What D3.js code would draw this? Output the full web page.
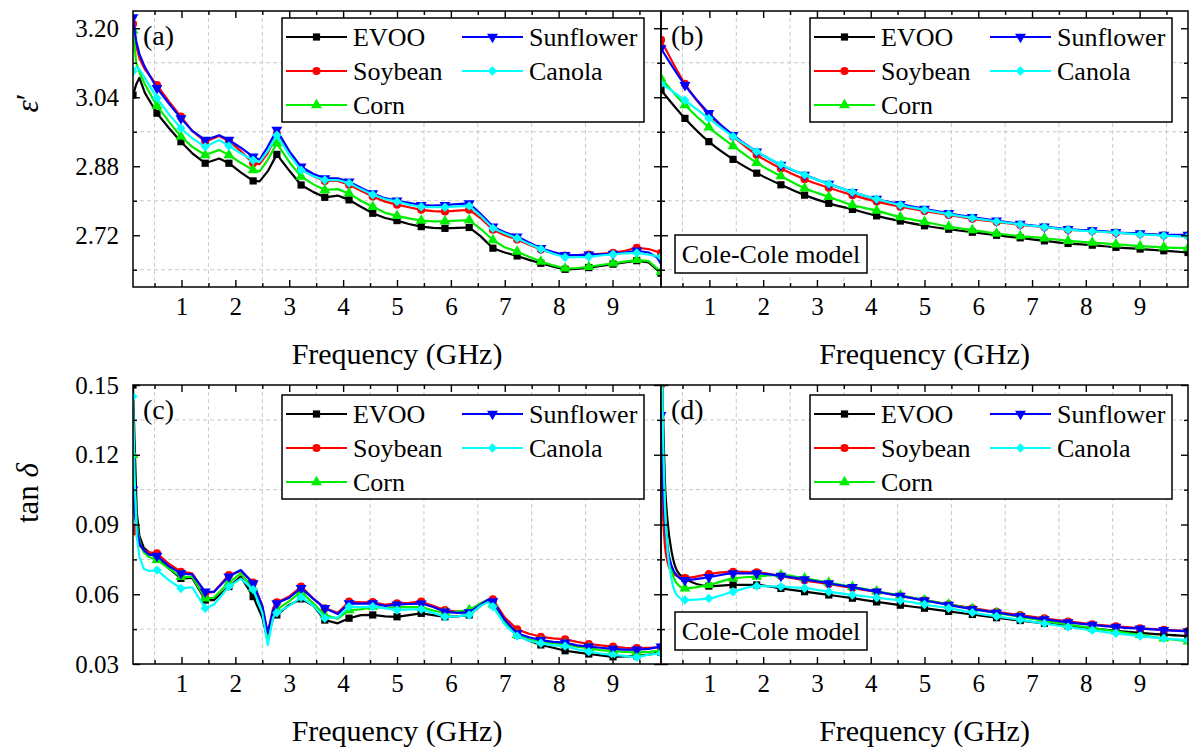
<!DOCTYPE html>
<html>
<head>
<meta charset="utf-8">
<script src="https://cdn.jsdelivr.net/npm/d3@7"></script>
<style>
  body { margin: 0; background: #fff; }
  svg { display: block; }
</style>
</head>
<body>
<svg id="chart" width="1189" height="754"></svg>
<script>
// ---------------- data ----------------
const oils = ["EVOO", "Soybean", "Corn", "Sunflower", "Canola"];
const oilColors = ["#000000", "#ff0000", "#00ee00", "#0000ff", "#00ffff"];

// frequencies (GHz) at which symbols are placed along each curve
const markerFreq = [0.1, 0.545, 0.99, 1.44, 1.88, 2.33, 2.77, 3.22, 3.66, 4.11, 4.55,
  5.0, 5.45, 5.89, 6.34, 6.78, 7.23, 7.67, 8.12, 8.56, 9.01, 9.45, 9.9];

// x tick values
const xMajor = [1, 2, 3, 4, 5, 6, 7, 8, 9];
const xMinor = [0.5, 1.5, 2.5, 3.5, 4.5, 5.5, 6.5, 7.5, 8.5, 9.5];
// y tick values
const epsMajor = [2.72, 2.88, 3.04, 3.20];
const epsMinor = [2.64, 2.80, 2.96, 3.12];
const tanMajor = [0.03, 0.06, 0.09, 0.12, 0.15];
const tanMinor = [0.045, 0.075, 0.105, 0.135];

// (a) measured permittivity
const freqEpsMeas = [0.1, 0.16, 0.22, 0.32, 0.545, 0.77, 0.99, 1.2, 1.44, 1.7, 1.88, 2.1, 2.33, 2.45, 2.6,
  2.77, 3.0, 3.22, 3.45, 3.66, 3.9, 4.11, 4.33, 4.55, 4.78, 5.0, 5.22, 5.45, 5.67, 5.89, 6.12, 6.34, 6.55,
  6.78, 7.0, 7.23, 7.45, 7.67, 7.9, 8.12, 8.34, 8.56, 8.78, 9.01, 9.23, 9.45, 9.67, 9.9];
const epsEVOO = [3.045, 3.07, 3.085, 3.05, 3.003, 2.968, 2.937, 2.91, 2.887, 2.898, 2.887, 2.866, 2.846, 2.845, 2.868,
  2.9075, 2.87, 2.8365, 2.82, 2.808, 2.812, 2.802, 2.786, 2.771, 2.76, 2.754, 2.746, 2.740, 2.737, 2.736, 2.737, 2.738, 2.718,
  2.690, 2.68, 2.672, 2.663, 2.655, 2.647, 2.641, 2.642, 2.645, 2.649, 2.653, 2.657, 2.661, 2.657, 2.632];
const epsSoybean = [3.21, 3.16, 3.13, 3.105, 3.068, 3.03, 2.995, 2.962, 2.937, 2.95, 2.938, 2.915, 2.887, 2.885, 2.91,
  2.955, 2.91, 2.873, 2.857, 2.846, 2.846, 2.837, 2.823, 2.81, 2.798, 2.791, 2.785, 2.779, 2.776, 2.775, 2.777, 2.779, 2.76,
  2.733, 2.72, 2.710, 2.698, 2.687, 2.678, 2.673, 2.674, 2.675, 2.677, 2.679, 2.684, 2.691, 2.688, 2.679];
const epsCorn = [3.195, 3.12, 3.098, 3.07, 3.02, 2.983, 2.949, 2.925, 2.906, 2.918, 2.906, 2.888, 2.871, 2.868, 2.895,
  2.933, 2.89, 2.856, 2.838, 2.825, 2.827, 2.817, 2.80, 2.786, 2.772, 2.765, 2.759, 2.754, 2.752, 2.752, 2.754, 2.755, 2.735,
  2.709, 2.692, 2.682, 2.67, 2.659, 2.65, 2.643, 2.644, 2.647, 2.651, 2.655, 2.659, 2.663, 2.66, 2.635];
const epsSunflower = [3.225, 3.17, 3.14, 3.11, 3.061, 3.025, 2.991, 2.962, 2.941, 2.952, 2.941, 2.923, 2.902, 2.895, 2.925,
  2.964, 2.915, 2.879, 2.862, 2.852, 2.852, 2.844, 2.83, 2.817, 2.806, 2.80, 2.795, 2.790, 2.789, 2.790, 2.792, 2.794, 2.77,
  2.740, 2.727, 2.717, 2.703, 2.690, 2.681, 2.674, 2.674, 2.675, 2.676, 2.677, 2.68, 2.684, 2.68, 2.663];
const epsCanola = [3.10, 3.11, 3.105, 3.085, 3.038, 3.0, 2.968, 2.945, 2.925, 2.941, 2.927, 2.91, 2.894, 2.89, 2.915,
  2.952, 2.907, 2.871, 2.857, 2.848, 2.848, 2.841, 2.827, 2.814, 2.804, 2.798, 2.791, 2.786, 2.785, 2.785, 2.787, 2.788, 2.765,
  2.736, 2.724, 2.713, 2.70, 2.688, 2.677, 2.669, 2.669, 2.670, 2.673, 2.676, 2.678, 2.679, 2.675, 2.670];

// (b) Cole-Cole model permittivity
const freqEpsModel = markerFreq;
const epsModelEVOO = [3.057, 2.991, 2.937, 2.896, 2.864, 2.837, 2.813, 2.794, 2.780, 2.765, 2.753, 2.742,
  2.734, 2.727, 2.720, 2.714, 2.707, 2.701, 2.697, 2.692, 2.688, 2.684, 2.680];
const epsModelSoybean = [3.173, 3.071, 3.0, 2.949, 2.906, 2.875, 2.850, 2.830, 2.813, 2.798, 2.786, 2.776,
  2.767, 2.758, 2.751, 2.744, 2.739, 2.733, 2.730, 2.726, 2.723, 2.720, 2.719];
const epsModelCorn = [3.084, 3.022, 2.970, 2.927, 2.888, 2.857, 2.829, 2.809, 2.790, 2.777, 2.762, 2.751,
  2.740, 2.732, 2.724, 2.718, 2.713, 2.707, 2.703, 2.699, 2.695, 2.692, 2.690];
const epsModelSunflower = [3.153, 3.068, 3.003, 2.952, 2.914, 2.883, 2.860, 2.839, 2.820, 2.804, 2.792, 2.781,
  2.771, 2.762, 2.754, 2.746, 2.740, 2.734, 2.731, 2.727, 2.724, 2.721, 2.721];
const epsModelCanola = [3.072, 3.033, 2.991, 2.949, 2.914, 2.884, 2.860, 2.839, 2.820, 2.804, 2.790, 2.779,
  2.769, 2.760, 2.752, 2.745, 2.739, 2.733, 2.729, 2.726, 2.722, 2.719, 2.717];

// (c) measured loss tangent
const freqTanMeas = [0.1, 0.13, 0.17, 0.22, 0.3, 0.4, 0.545, 0.77, 0.99, 1.2, 1.44, 1.6, 1.88, 2.1, 2.33, 2.5, 2.6,
  2.7, 2.77, 3.0, 3.22, 3.45, 3.66, 3.9, 4.11, 4.33, 4.55, 4.78, 5.0, 5.22, 5.45, 5.67, 5.89, 6.12, 6.34, 6.55,
  6.68, 6.78, 7.0, 7.23, 7.45, 7.67, 7.9, 8.12, 8.34, 8.56, 8.78, 9.01, 9.23, 9.45, 9.67, 9.9];
const tanEVOO = [0.15, 0.125, 0.095, 0.085, 0.08, 0.078, 0.0762, 0.071, 0.0668, 0.067, 0.0575, 0.0575, 0.0633, 0.0676,
  0.059, 0.05, 0.0403, 0.05, 0.0511, 0.0554, 0.058, 0.055, 0.0489, 0.0475, 0.0497, 0.051, 0.0511, 0.0505, 0.0503, 0.051,
  0.0518, 0.051, 0.0503, 0.0505, 0.0511, 0.055, 0.057, 0.0555, 0.048, 0.0425, 0.040, 0.0382, 0.037, 0.0357, 0.035, 0.0343,
  0.0337, 0.0331, 0.0333, 0.0335, 0.034, 0.035];
const tanSoybean = [0.087, 0.09, 0.085, 0.081, 0.079, 0.078, 0.0776, 0.073, 0.0697, 0.069, 0.0605, 0.061, 0.0683, 0.070,
  0.065, 0.055, 0.043, 0.054, 0.0565, 0.059, 0.0633, 0.058, 0.054, 0.052, 0.0568, 0.0565, 0.0566, 0.0555, 0.0561, 0.0563,
  0.0568, 0.055, 0.0532, 0.0525, 0.0525, 0.056, 0.0575, 0.0578, 0.05, 0.0449, 0.043, 0.0417, 0.041, 0.0406, 0.0395, 0.0386,
  0.038, 0.0375, 0.037, 0.0368, 0.037, 0.0372];
const tanCorn = [0.12, 0.105, 0.09, 0.083, 0.078, 0.076, 0.0748, 0.071, 0.0675, 0.0675, 0.0582, 0.0585, 0.065, 0.069,
  0.0625, 0.053, 0.041, 0.052, 0.0535, 0.057, 0.061, 0.056, 0.051, 0.0495, 0.0532, 0.0535, 0.0547, 0.054, 0.0545, 0.0545,
  0.0545, 0.053, 0.052, 0.0525, 0.0532, 0.056, 0.0575, 0.0557, 0.048, 0.0425, 0.0405, 0.0396, 0.039, 0.0385, 0.0375, 0.0368,
  0.036, 0.0355, 0.0352, 0.035, 0.0352, 0.0358];
const tanSunflower = [0.105, 0.095, 0.088, 0.082, 0.079, 0.077, 0.0765, 0.072, 0.069, 0.0685, 0.0611, 0.061, 0.0676, 0.0704,
  0.0647, 0.055, 0.0432, 0.053, 0.0561, 0.0585, 0.0626, 0.058, 0.054, 0.0515, 0.0561, 0.056, 0.0561, 0.055, 0.0555, 0.0558,
  0.056, 0.0545, 0.0525, 0.052, 0.0522, 0.0555, 0.0575, 0.0569, 0.049, 0.0432, 0.0415, 0.0403, 0.0395, 0.0392, 0.038, 0.0375,
  0.037, 0.0365, 0.0362, 0.0362, 0.0365, 0.0375];
const tanCanola = [0.145, 0.11, 0.085, 0.076, 0.071, 0.07, 0.0704, 0.066, 0.0625, 0.063, 0.054, 0.0555, 0.0633, 0.0667,
  0.062, 0.052, 0.0382, 0.05, 0.052, 0.055, 0.0587, 0.055, 0.0497, 0.05, 0.0547, 0.0545, 0.0547, 0.054, 0.0532, 0.0535,
  0.0535, 0.052, 0.0503, 0.0505, 0.0511, 0.055, 0.0565, 0.0547, 0.047, 0.042, 0.040, 0.0389, 0.038, 0.0377, 0.0363, 0.0353,
  0.0345, 0.0339, 0.0335, 0.0329, 0.034, 0.0345];

// (d) Cole-Cole model loss tangent
const freqTanModel = [0.1, 0.13, 0.17, 0.22, 0.3, 0.4, 0.545, 0.99, 1.44, 1.88, 2.33, 2.77, 3.22, 3.66, 4.11, 4.55,
  5.0, 5.45, 5.89, 6.34, 6.78, 7.23, 7.67, 8.12, 8.56, 9.01, 9.45, 9.9];
const tanModelEVOO = [0.17, 0.145, 0.11, 0.092, 0.078, 0.07, 0.0668, 0.0635, 0.064, 0.064, 0.0625, 0.0611, 0.0597, 0.0583,
  0.0567, 0.0553, 0.054, 0.0526, 0.0513, 0.0499, 0.0487, 0.0475, 0.0464, 0.0453, 0.0443, 0.0434, 0.0426, 0.042];
const tanModelSoybean = [0.15, 0.1, 0.082, 0.074, 0.0695, 0.0678, 0.067, 0.0687, 0.0697, 0.0694, 0.0678, 0.066, 0.0644,
  0.0627, 0.061, 0.0593, 0.0575, 0.0557, 0.054, 0.0524, 0.051, 0.0496, 0.0483, 0.0471, 0.0462, 0.0454, 0.0447, 0.0442];
const tanModelCorn = [0.18, 0.13, 0.1, 0.082, 0.07, 0.0645, 0.0625, 0.064, 0.0668, 0.0676, 0.0683, 0.0668, 0.065, 0.0632,
  0.0613, 0.0595, 0.0575, 0.0557, 0.0537, 0.052, 0.0503, 0.0486, 0.047, 0.0455, 0.044, 0.0425, 0.041, 0.0397];
const tanModelSunflower = [0.137, 0.11, 0.092, 0.08, 0.072, 0.068, 0.0661, 0.0673, 0.069, 0.069, 0.0679, 0.0664, 0.0647,
  0.063, 0.0611, 0.0593, 0.0573, 0.0554, 0.0536, 0.0521, 0.0506, 0.0492, 0.0479, 0.0468, 0.0459, 0.0452, 0.0446, 0.044];
const tanModelCanola = [0.2, 0.14, 0.1, 0.08, 0.066, 0.0595, 0.0575, 0.0582, 0.0611, 0.0635, 0.0633, 0.0626, 0.0611,
  0.0597, 0.0585, 0.0573, 0.0556, 0.054, 0.0521, 0.0505, 0.049, 0.0474, 0.0459, 0.0445, 0.0432, 0.042, 0.041, 0.0402];

// ---------------- drawing ----------------
const SERIF = "'Liberation Serif', 'Times New Roman', Times, 'DejaVu Serif', serif";
const svg = d3.select("#chart").style("font-family", SERIF);
const defs = svg.append("defs");
const FONT_TICK = 25, FONT_LEGEND = 26, FONT_TITLE = 30;

// symbol for each oil: [type, rotation, area]
const oilSymbols = [
  [d3.symbolSquare, 0, 52],
  [d3.symbolCircle, 0, 52],
  [d3.symbolTriangle, 0, 52],
  [d3.symbolTriangle, 180, 52],
  [d3.symbolSquare, 45, 44]
];

function addText(sel, size) {
  return sel.append("text").style("font-family", SERIF).style("font-size", size + "px").attr("fill", "#000");
}

function drawMarker(sel, i, cx, cy) {
  const [type, rot, size] = oilSymbols[i];
  sel.append("path")
    .attr("d", d3.symbol().type(type).size(size)())
    .attr("transform", `translate(${cx},${cy}) rotate(${rot})`)
    .attr("fill", oilColors[i]);
}

function drawPanel(p, idx) {
  const x = d3.scaleLinear().domain([0.1, 9.9]).range([p.x0, p.x1]);
  const y = d3.scaleLinear().domain(p.yDomain).range([p.y1, p.y0]);
  const g = svg.append("g");

  // dashed grid at minor tick positions
  g.append("g").selectAll("line").data(xMinor).join("line")
    .attr("x1", d => x(d)).attr("x2", d => x(d)).attr("y1", p.y0).attr("y2", p.y1)
    .attr("stroke", "#c9c9c9").attr("stroke-width", 1).attr("stroke-dasharray", "4,3");
  g.append("g").selectAll("line").data(p.yMinor).join("line")
    .attr("x1", p.x0).attr("x2", p.x1).attr("y1", d => y(d)).attr("y2", d => y(d))
    .attr("stroke", "#c9c9c9").attr("stroke-width", 1).attr("stroke-dasharray", "4,3");

  defs.append("clipPath").attr("id", "clip" + idx).append("rect")
    .attr("x", p.x0).attr("y", p.y0).attr("width", p.x1 - p.x0).attr("height", p.y1 - p.y0);
  const plot = g.append("g").attr("clip-path", `url(#clip${idx})`);

  const line = d3.line().x(d => x(d.f)).y(d => y(d.v)).curve(p.curve);
  p.series.forEach((vals, i) => {
    const pts = p.freq.map((f, k) => ({ f, v: vals[k] }));
    plot.append("path").datum(pts).attr("d", line)
      .attr("fill", "none").attr("stroke", oilColors[i]).attr("stroke-width", 2.2)
      .attr("stroke-linejoin", "round");
    const mk = pts.filter(d => markerFreq.some(m => Math.abs(m - d.f) < 0.004));
    mk.forEach(d => drawMarker(plot, i, x(d.f), y(d.v)));
  });

  // axes with inward ticks on all four sides
  const styleAxis = a => {
    a.attr("font-family", null).attr("font-size", null);
    a.select(".domain").remove();
    a.selectAll("line").attr("stroke", "#000").attr("stroke-width", 1.4);
    a.selectAll("text").style("font-family", SERIF).style("font-size", FONT_TICK + "px");
  };
  const ax = g.append("g");
  ax.append("g").attr("transform", `translate(0,${p.y1})`)
    .call(d3.axisBottom(x).tickValues(xMajor).tickSize(-7).tickPadding(10).tickFormat(d3.format("d"))).call(styleAxis);
  ax.append("g").attr("transform", `translate(0,${p.y1})`)
    .call(d3.axisBottom(x).tickValues(xMinor).tickSize(-4).tickFormat("")).call(styleAxis);
  ax.append("g").attr("transform", `translate(0,${p.y0})`)
    .call(d3.axisTop(x).tickValues(xMajor).tickSize(-7).tickFormat("")).call(styleAxis);
  ax.append("g").attr("transform", `translate(0,${p.y0})`)
    .call(d3.axisTop(x).tickValues(xMinor).tickSize(-4).tickFormat("")).call(styleAxis);
  ax.append("g").attr("transform", `translate(${p.x0},0)`)
    .call(d3.axisLeft(y).tickValues(p.yMajor).tickSize(-7).tickPadding(14)
      .tickFormat(p.showY ? d3.format(".2f") : "")).call(styleAxis);
  ax.append("g").attr("transform", `translate(${p.x0},0)`)
    .call(d3.axisLeft(y).tickValues(p.yMinor).tickSize(-4).tickFormat("")).call(styleAxis);
  ax.append("g").attr("transform", `translate(${p.x1},0)`)
    .call(d3.axisRight(y).tickValues(p.yMajor).tickSize(-7).tickFormat("")).call(styleAxis);
  ax.append("g").attr("transform", `translate(${p.x1},0)`)
    .call(d3.axisRight(y).tickValues(p.yMinor).tickSize(-4).tickFormat("")).call(styleAxis);

  g.append("rect").attr("x", p.x0).attr("y", p.y0).attr("width", p.x1 - p.x0).attr("height", p.y1 - p.y0)
    .attr("fill", "none").attr("stroke", "#000").attr("stroke-width", 1.5);

  // panel letter
  addText(g, 28).attr("x", p.x0 + 10).attr("y", p.y0 + 34).text(p.label);

  // x-axis title
  addText(g, FONT_TITLE).attr("x", (p.x0 + p.x1) / 2).attr("y", p.y1 + 77).attr("text-anchor", "middle")
    .text("Frequency (GHz)");

  // legend
  const lg = g.append("g").attr("transform", `translate(${p.x0 + 149},${p.y0 + p.legendTop})`);
  lg.append("rect").attr("width", 362).attr("height", 104).attr("fill", "#fff")
    .attr("stroke", "#000").attr("stroke-width", 1.5);
  const rowY = [19, 53, 87];
  oils.forEach((name, i) => {
    const col = i < 3 ? 0 : 1;
    const row = i < 3 ? i : i - 3;
    const lx = col === 0 ? 4 : 180;
    const cy = rowY[row];
    lg.append("line").attr("x1", lx).attr("x2", lx + 61).attr("y1", cy).attr("y2", cy)
      .attr("stroke", oilColors[i]).attr("stroke-width", 2.2);
    drawMarker(lg, i, lx + 30.5, cy);
    addText(lg, FONT_LEGEND).attr("x", lx + 67).attr("y", cy).attr("dy", "0.34em").text(name);
  });

  // model annotation
  if (p.modelBox) {
    const mb = g.append("g").attr("transform", `translate(${p.x0 + 14},${p.y0 + p.modelBox})`);
    mb.append("rect").attr("width", 192).attr("height", 38).attr("fill", "#fff")
      .attr("stroke", "#000").attr("stroke-width", 1.5);
    addText(mb, FONT_LEGEND).attr("x", 96).attr("y", 19).attr("dy", "0.34em").attr("text-anchor", "middle")
      .text("Cole-Cole model");
  }
}

const panels = [
  { x0: 133, x1: 661, y0: 11, y1: 287, yDomain: [2.6, 3.24], yMajor: epsMajor, yMinor: epsMinor, showY: true,
    freq: freqEpsMeas, series: [epsEVOO, epsSoybean, epsCorn, epsSunflower, epsCanola],
    curve: d3.curveLinear, label: "(a)", legendTop: 7 },
  { x0: 661, x1: 1188, y0: 11, y1: 287, yDomain: [2.6, 3.24], yMajor: epsMajor, yMinor: epsMinor, showY: false,
    freq: freqEpsModel, series: [epsModelEVOO, epsModelSoybean, epsModelCorn, epsModelSunflower, epsModelCanola],
    curve: d3.curveMonotoneX, label: "(b)", legendTop: 7, modelBox: 224 },
  { x0: 133, x1: 661, y0: 385, y1: 664, yDomain: [0.03, 0.15], yMajor: tanMajor, yMinor: tanMinor, showY: true,
    freq: freqTanMeas, series: [tanEVOO, tanSoybean, tanCorn, tanSunflower, tanCanola],
    curve: d3.curveLinear, label: "(c)", legendTop: 10 },
  { x0: 661, x1: 1188, y0: 385, y1: 664, yDomain: [0.03, 0.15], yMajor: tanMajor, yMinor: tanMinor, showY: false,
    freq: freqTanModel, series: [tanModelEVOO, tanModelSoybean, tanModelCorn, tanModelSunflower, tanModelCanola],
    curve: d3.curveMonotoneX, label: "(d)", legendTop: 10, modelBox: 227 }
];
panels.forEach(drawPanel);

// y-axis titles
const t1 = addText(svg, 31).attr("transform", "translate(38,103) rotate(-90)").attr("text-anchor", "middle");
t1.append("tspan").style("font-style", "italic").text("ε");
t1.append("tspan").text("′");
const t2 = addText(svg, 31).attr("transform", "translate(38,493) rotate(-90)").attr("text-anchor", "middle");
t2.append("tspan").text("tan ");
t2.append("tspan").style("font-style", "italic").text("δ");
</script>
</body>
</html>
